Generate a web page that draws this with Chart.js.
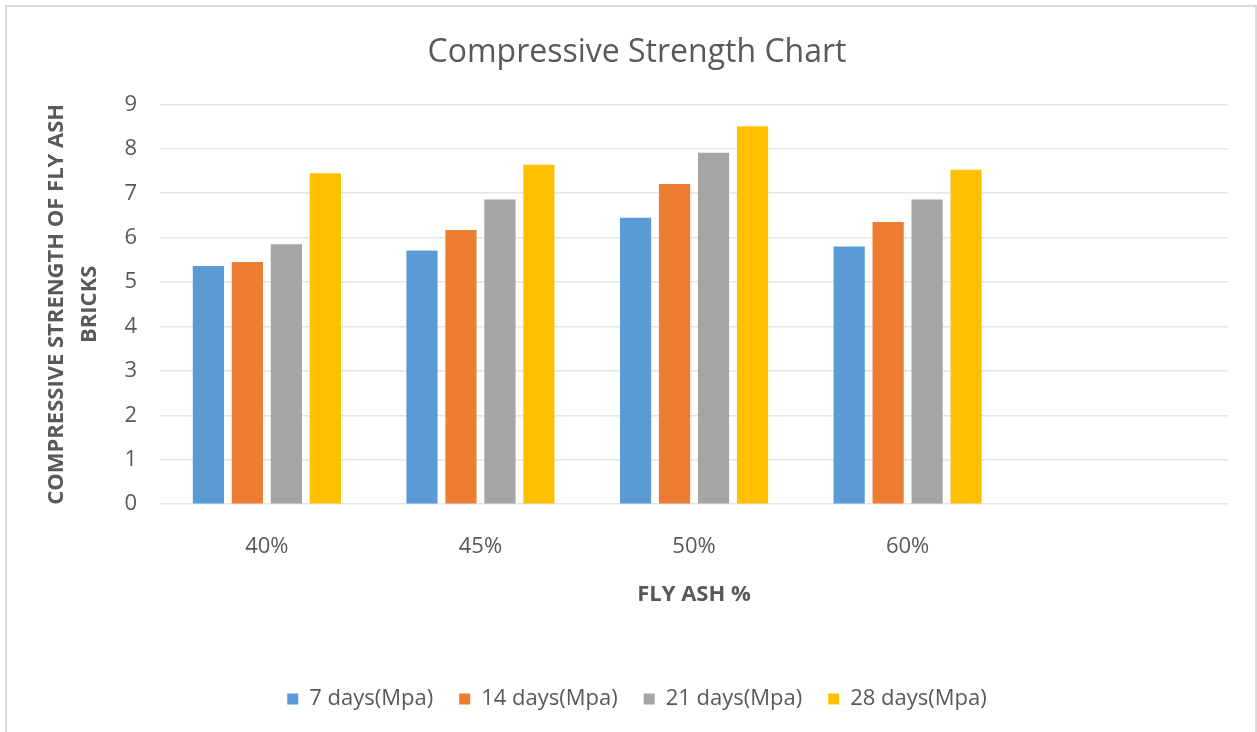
<!DOCTYPE html>
<html>
<head>
<meta charset="utf-8">
<script src="https://cdn.jsdelivr.net/npm/chart.js@4"></script>
<style>
  html, body { margin: 0; padding: 0; background: #fff; }
  #wrap { position: relative; width: 1257px; height: 732px; overflow: hidden; }
  #frame { position: absolute; left: 5px; top: 5px; width: 1248px; height: 760px; border: 2px solid #d9d9d9; }
  #myChart { position: absolute; left: 0; top: 0; }
</style>
</head>
<body>
<div id="wrap">
  <div id="frame"></div>
  <canvas id="myChart" width="1257" height="732"></canvas>
</div>
<script>
const categories = ["40%", "45%", "50%", "60%", ""];
const days7 = [5.36, 5.71, 6.45, 5.80, null];
const days14 = [5.45, 6.17, 7.21, 6.35, null];
const days21 = [5.85, 6.86, 7.91, 6.86, null];
const days28 = [7.45, 7.64, 8.51, 7.53, null];
const yTicks = [0, 1, 2, 3, 4, 5, 6, 7, 8, 9];

const textColor = '#595959';
const fontFamily = "'Open Sans', 'Liberation Sans', sans-serif";

const ctx = document.getElementById('myChart');
new Chart(ctx, {
    type: 'bar',
    data: {
        labels: categories,
        datasets: [
            { label: '7 days(Mpa)', data: days7, backgroundColor: '#5b9bd5' },
            { label: '14 days(Mpa)', data: days14, backgroundColor: '#ed7d31' },
            { label: '21 days(Mpa)', data: days21, backgroundColor: '#a5a5a5' },
            { label: '28 days(Mpa)', data: days28, backgroundColor: '#ffc000' }
        ]
    },
    options: {
        responsive: false,
        animation: false,
        categoryPercentage: 0.73,
        barPercentage: 0.8,
        layout: { padding: { left: 46, right: 29, top: 22, bottom: 12 } },
        plugins: {
            title: {
                display: true,
                text: 'Compressive Strength Chart',
                color: textColor,
                font: { family: fontFamily, size: 32, weight: 'normal' },
                padding: { top: 12, bottom: 32 }
            },
            legend: {
                position: 'bottom',
                labels: {
                    color: textColor,
                    font: { family: fontFamily, size: 22 },
                    boxWidth: 11,
                    boxHeight: 11,
                    padding: 26
                }
            },
            tooltip: { enabled: false }
        },
        scales: {
            x: {
                grid: { display: false, drawTicks: false },
                border: { display: false },
                ticks: {
                    color: textColor,
                    font: { family: fontFamily, size: 22 },
                    padding: 29
                },
                title: {
                    display: true,
                    text: 'FLY ASH %',
                    color: textColor,
                    font: { family: fontFamily, size: 22, weight: 'bold' },
                    padding: { top: -7, bottom: 54 }
                }
            },
            y: {
                min: 0,
                max: 9,
                afterBuildTicks: (axis) => { axis.ticks = yTicks.map(v => ({ value: v })); },
                grid: { color: '#e6e6e6', lineWidth: 1.5, drawTicks: false },
                border: { display: false },
                ticks: {
                    color: textColor,
                    font: { family: fontFamily, size: 22 },
                    padding: 23
                },
                title: {
                    display: true,
                    text: ['COMPRESSIVE STRENGTH OF FLY ASH', 'BRICKS'],
                    color: textColor,
                    font: { family: fontFamily, size: 22, weight: 'bold', lineHeight: 1.5 },
                    padding: { top: -5.5, bottom: -5 }
                }
            }
        }
    }
});
</script>
</body>
</html>
